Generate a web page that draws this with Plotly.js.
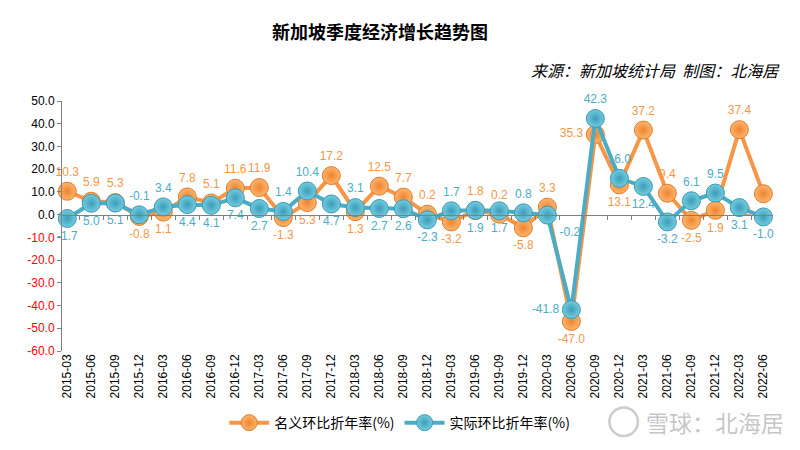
<!DOCTYPE html>
<html>
<head>
<meta charset="utf-8">
<script src="https://cdn.plot.ly/plotly-3.0.1.min.js"></script>
<style>html,body{margin:0;padding:0;background:#fff;}#chart{width:800px;height:450px;}</style>
</head>
<body>
<div id="chart"></div>
<script>
// ---- data ----
var quarters = ["2015-03","2015-06","2015-09","2015-12","2016-03","2016-06","2016-09","2016-12",
  "2017-03","2017-06","2017-09","2017-12","2018-03","2018-06","2018-09","2018-12",
  "2019-03","2019-06","2019-09","2019-12","2020-03","2020-06","2020-09","2020-12",
  "2021-03","2021-06","2021-09","2021-12","2022-03","2022-06"];
var nominal = [10.3,5.9,5.3,-0.8,1.1,7.8,5.1,11.6,11.9,-1.3,5.3,17.2,1.3,12.5,7.7,0.2,
  -3.2,1.8,0.2,-5.8,3.3,-47.0,35.3,13.1,37.2,9.4,-2.5,1.9,37.4,9.2];
var real = [-1.7,5.0,5.1,-0.1,3.4,4.4,4.1,7.4,2.7,1.4,10.4,4.7,3.1,2.7,2.6,-2.3,
  1.7,1.9,1.7,0.8,-0.2,-41.8,42.3,16.0,12.4,-3.2,6.1,9.5,3.1,-1.0];
var nominalName = "名义环比折年率(%)";
var realName = "实际环比折年率(%)";
var yTicks = [50,40,30,20,10,0,-10,-20,-30,-40,-50,-60];
var titleText = "新加坡季度经济增长趋势图";
var sourceText = "来源：新加坡统计局  制图：北海居";
var watermarkText = "雪球：北海居";

// ---- label placement (style) ----
var T="top center", B="bottom center";
var nominalPos = [T,T,T,B,B,T,T,T,T,B,B,T,B,T,T,T,B,T,T,B,T,B,"middle left",B,T,T,B,B,T,"bottom left"];
var realPos = [B,B,B,T,T,B,B,B,B,T,T,B,T,B,B,B,T,B,B,T,"bottom right","middle left",T,T,B,B,T,T,B,B];

var orange = "#F79646", blue = "#4BACC6";
var yRange = [-60, 50];
var xRange = [-0.22, 29.4];

var traces = [
  {
    x: quarters, y: nominal, name: nominalName, type: "scatter", mode: "lines+markers+text",
    line: {color: orange, width: 4},
    marker: {size: 18, color: "#FDB56E", gradient: {type: "radial", color: "#EE8430"}, line: {color: "#E07B28", width: 1}},
    text: nominal.map(function(v){return v.toFixed(1);}),
    textposition: nominalPos,
    textfont: {color: orange, size: 12, family: "Liberation Sans, Arial, sans-serif"},
    cliponaxis: false, hoverinfo: "x+y"
  },
  {
    x: quarters, y: real, name: realName, type: "scatter", mode: "lines+markers+text",
    line: {color: blue, width: 4},
    marker: {size: 18, color: "#74CCE0", gradient: {type: "radial", color: "#3C9DB8"}, line: {color: "#3A98B2", width: 1}},
    text: real.map(function(v){return v.toFixed(1);}),
    textposition: realPos,
    textfont: {color: blue, size: 12, family: "Liberation Sans, Arial, sans-serif"},
    cliponaxis: false, hoverinfo: "x+y"
  },
  {
    x: quarters, y: quarters.map(function(){return null;}), xaxis: "x2", yaxis: "y",
    type: "scatter", mode: "lines", showlegend: false, hoverinfo: "skip"
  }
];

var zeroPos = (0 - yRange[0]) / (yRange[1] - yRange[0]);

var layout = {
  width: 800, height: 450,
  margin: {l: 62, r: 27, t: 101, b: 98},
  paper_bgcolor: "#fff", plot_bgcolor: "#fff",
  font: {family: "Liberation Sans, Arial, sans-serif", color: "#000"},
  title: {
    text: "<b>" + titleText + "</b>",
    font: {family: "Noto Sans CJK SC, sans-serif", size: 18, color: "#000"},
    x: 0.475, xanchor: "center", xref: "container",
    y: 0.927, yanchor: "middle", yref: "container"
  },
  showlegend: true,
  legend: {
    orientation: "h", x: 0.475, xanchor: "center", y: -0.283, yanchor: "middle",
    font: {family: "Noto Sans CJK SC, sans-serif", size: 14, color: "#000"},
    itemwidth: 40
  },
  xaxis: {
    type: "category", range: xRange, showline: false, ticks: "", showgrid: false, zeroline: false,
    tickangle: -90, tickfont: {size: 12, color: "#000"}, fixedrange: true
  },
  xaxis2: {
    type: "category", overlaying: "x", anchor: "free", position: zeroPos, range: xRange,
    showline: true, linecolor: "#808080", linewidth: 1, ticks: "outside", ticklen: 4,
    tickcolor: "#808080", tickson: "boundaries", showticklabels: false, showgrid: false, zeroline: false
  },
  yaxis: {
    range: yRange, tickvals: yTicks,
    ticktext: yTicks.map(function(v){
      var s = v.toFixed(1);
      return v < 0 ? '<span style="color:#FF0000">' + s + '</span>' : s;
    }),
    showline: true, linecolor: "#808080", linewidth: 1, ticks: "outside", ticklen: 4, tickcolor: "#808080",
    showgrid: false, zeroline: false, tickfont: {size: 12, color: "#000"}
  },
  annotations: [
    {
      text: "<i>" + sourceText + "</i>", xref: "paper", yref: "paper",
      x: 1.012, xanchor: "right", y: 1.1235, yanchor: "middle", showarrow: false,
      font: {family: "Noto Sans CJK SC, sans-serif", size: 16, color: "#000"}
    },
    {
      text: watermarkText, xref: "paper", yref: "paper",
      x: 0.918, xanchor: "center", y: -0.283, yanchor: "middle", showarrow: false,
      font: {family: "Noto Sans CJK SC, sans-serif", size: 23, color: "rgba(160,160,160,0.6)"}
    }
  ],
  shapes: [
    {
      type: "circle", xref: "paper", yref: "paper",
      x0: 0.77, x1: 0.81, y0: -0.34, y1: -0.226,
      line: {color: "rgba(170,170,170,0.6)", width: 2.5}
    }
  ]
};

Plotly.newPlot("chart", traces, layout, {displayModeBar: false, staticPlot: true});
</script>
</body>
</html>
